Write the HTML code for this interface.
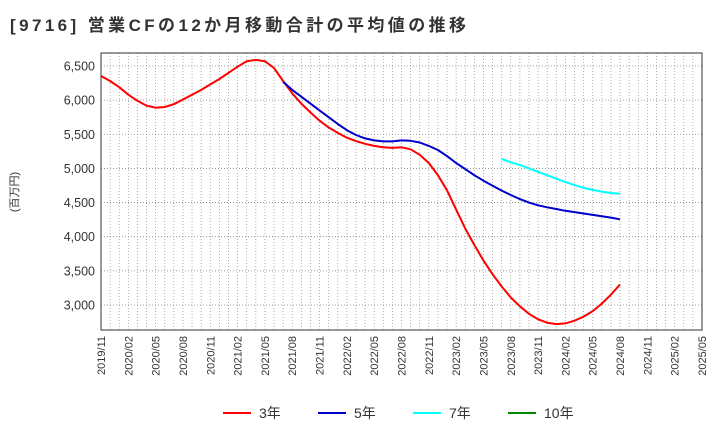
<!DOCTYPE html>
<html><head><meta charset="utf-8"><style>
body{margin:0;background:#fff;font-family:"Liberation Sans","Noto Sans CJK JP",sans-serif;}
svg text{font-family:"Liberation Sans","Noto Sans CJK JP",sans-serif;}
</style></head><body>
<svg id="chart" width="720" height="440" xmlns="http://www.w3.org/2000/svg">
<text x="10" y="31" font-size="17" font-weight="bold" fill="#333" textLength="456" lengthAdjust="spacing">[9716]  営業CFの12か月移動合計の平均値の推移</text>
<text transform="translate(18,192) rotate(-90)" font-size="11" fill="#333" text-anchor="middle">(百万円)</text>
<g id="grid"></g><g id="axes"></g><g id="series"></g><g id="legend"></g>
</svg>
<script>
const yTicks=[3000,3500,4000,4500,5000,5500,6000,6500];
const xLabels=["2019/11","2020/02","2020/05","2020/08","2020/11","2021/02","2021/05","2021/08","2021/11","2022/02","2022/05","2022/08","2022/11","2023/02","2023/05","2023/08","2023/11","2024/02","2024/05","2024/08","2024/11","2025/02","2025/05"];
const s3=[6354,6280,6190,6080,5990,5920,5890,5900,5940,6010,6080,6150,6230,6310,6400,6490,6570,6590,6570,6470,6280,6100,5950,5820,5700,5600,5520,5450,5400,5360,5330,5310,5300,5310,5280,5200,5080,4900,4680,4400,4120,3880,3650,3450,3270,3110,2980,2870,2790,2740,2720,2730,2770,2830,2910,3020,3150,3300];
const s5start=20;
const s5=[6270,6150,6050,5950,5850,5750,5650,5560,5490,5440,5410,5395,5395,5410,5405,5380,5330,5270,5180,5080,4990,4900,4820,4745,4675,4610,4550,4500,4460,4430,4405,4380,4360,4340,4320,4300,4280,4255];
const s7start=44;
const s7=[5140,5090,5050,5000,4950,4900,4850,4800,4755,4715,4685,4660,4640,4630];
const s10=[];
const L=101,R=702,T=53,B=330,NM=66;
const yMin=6500-(B-66)/34.14*500, yMax=6500+(66-T)/34.14*500;
const xs=i=>L+i*(R-L)/NM;
const ys=v=>B-(v-yMin)/(yMax-yMin)*(B-T);
const NS="http://www.w3.org/2000/svg";
function mk(tag,attrs,parent){const e=document.createElementNS(NS,tag);for(const k in attrs)e.setAttribute(k,attrs[k]);parent.appendChild(e);return e;}
const grid=document.getElementById('grid'),axes=document.getElementById('axes'),ser=document.getElementById('series'),leg=document.getElementById('legend');
for(let i=1;i<NM;i++){const g=mk('line',{x1:xs(i),x2:xs(i),y1:T,y2:B,stroke:'#999','stroke-width':0.8,'stroke-dasharray':'1,2'},grid);

}
yTicks.forEach(v=>{const g=mk('line',{x1:L,x2:R,y1:ys(v),y2:ys(v),stroke:'#888','stroke-width':0.8,'stroke-dasharray':'1,2'},grid);


const t=mk('text',{x:L-6,y:ys(v)+4.5,'font-size':12.5,'text-anchor':'end',fill:'#333'},axes);t.textContent=v.toLocaleString('en-US');

});
xLabels.forEach((s,k)=>{const x=xs(k*3);const t=mk('text',{transform:`translate(${x+4},${B+6}) rotate(-90)`,'font-size':11,'text-anchor':'end',fill:'#333'},axes);t.textContent=s;

});
const fr=mk('rect',{x:L,y:T,width:R-L,height:B-T,fill:'none',stroke:'#333','stroke-width':1},axes);


function path(arr,start){let d='';arr.forEach((v,i)=>{d+=(i?'L':'M')+xs(start+i).toFixed(1)+','+ys(v).toFixed(1);});return d;}
const series=[[s3,0,'#f00','3年','series-3y'],[s5,s5start,'#00c','5年','series-5y'],[s7,s7start,'#0ff','7年','series-7y'],[s10,0,'#080','10年','series-10y']];
series.forEach(([a,st,c,lab,nm],k)=>{if(a.length){const p=mk('path',{d:path(a,st),fill:'none',stroke:c,'stroke-width':2,'stroke-linejoin':'round'},ser);

}
const lx=223+k*95;
const g=mk('g',{},leg);


mk('line',{x1:lx,x2:lx+28,y1:413,y2:413,stroke:c,'stroke-width':2},g);
const t=mk('text',{x:lx+36,y:418,'font-size':14,fill:'#333'},g);t.textContent=lab;});
</script>
</body></html>
